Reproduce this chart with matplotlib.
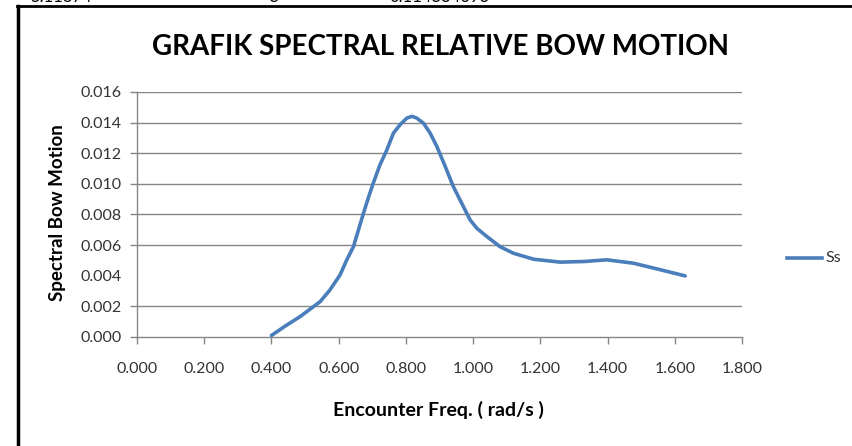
import matplotlib
matplotlib.use("Agg")
import matplotlib.pyplot as plt
from matplotlib.lines import Line2D

freq = [0.400, 0.440, 0.485, 0.545, 0.574, 0.604, 0.624, 0.644, 0.659, 0.674,
        0.688, 0.703, 0.723, 0.743, 0.763, 0.783, 0.803, 0.818, 0.832, 0.852,
        0.872, 0.892, 0.917, 0.941, 0.966, 0.991, 1.011, 1.041, 1.080, 1.120,
        1.180, 1.259, 1.330, 1.398, 1.477, 1.550, 1.631]
spectral = [0.0001, 0.0007, 0.00133, 0.00231, 0.00307, 0.00405, 0.00503, 0.0059, 0.0070, 0.0081,
            0.00907, 0.01005, 0.01125, 0.0122, 0.01332, 0.01387, 0.0143, 0.01441, 0.0143, 0.01397,
            0.01332, 0.01245, 0.01114, 0.00983, 0.00874, 0.00765, 0.0071, 0.00656, 0.0059, 0.00547,
            0.00508, 0.00489, 0.00493, 0.00504, 0.00482, 0.00443, 0.00399]
x_ticks = [0.0, 0.2, 0.4, 0.6, 0.8, 1.0, 1.2, 1.4, 1.6, 1.8]
y_ticks = [0.000, 0.002, 0.004, 0.006, 0.008, 0.010, 0.012, 0.014, 0.016]
y_grid = [0.002, 0.006, 0.008, 0.010, 0.012, 0.014, 0.016]
series_name = "Ss"

W, H = 852, 446
fig = plt.figure(figsize=(W / 100, H / 100), dpi=100)
fig.patch.set_facecolor("white")

ax = fig.add_axes([137 / W, 1 - 337 / H, (742 - 137) / W, (337 - 92) / H])
ax.set_xlim(0, 1.8)
ax.set_ylim(0, 0.016)

grid_c = "#868686"
for g in y_grid:
    ax.axhline(g, color=grid_c, lw=1.0, zorder=1)

line_c = "#4A7EBB"
ax.plot(freq, spectral, color=line_c, lw=2.6, solid_capstyle="round",
        solid_joinstyle="round", zorder=3)

for s in ["top", "right"]:
    ax.spines[s].set_visible(False)
for s in ["left", "bottom"]:
    ax.spines[s].set_color(grid_c)
    ax.spines[s].set_linewidth(1.0)

ax.set_xticks(x_ticks)
ax.set_xticklabels([f"{v:.3f}" for v in x_ticks])
ax.set_yticks(y_ticks)
ax.set_yticklabels([f"{v:.3f}" for v in y_ticks])
ax.tick_params(axis="both", direction="out", length=5, width=1, color=grid_c,
               labelsize=11.5, labelcolor="#333333")
ax.tick_params(axis="x", pad=13)
ax.tick_params(axis="y", pad=6)
for lab in ax.get_xticklabels() + ax.get_yticklabels():
    lab.set_family("Lato")
# the reference shows no tick mark at 0.004
for t, v in zip(ax.yaxis.get_major_ticks(), y_ticks):
    if v not in y_grid and v != 0.0:
        t.tick1line.set_visible(False)

fig.text(441 / W, 1 - 47 / H, "GRAFIK SPECTRAL RELATIVE BOW MOTION",
         ha="center", va="center", fontsize=20, fontweight="bold", family="Lato")
fig.text(58 / W, 1 - 213 / H, "Spectral Bow Motion", rotation=90,
         ha="center", va="center", fontsize=13.5, fontweight="bold", family="Lato")
fig.text(438 / W, 1 - 410 / H, "Encounter Freq. ( rad/s )",
         ha="center", va="center", fontsize=14, fontweight="bold", family="Lato")

# legend
fig.add_artist(Line2D([787 / W, 822 / W], [1 - 258 / H, 1 - 258 / H],
                      color=line_c, lw=2.6, transform=fig.transFigure))
fig.text(825 / W, 1 - 258 / H, series_name, ha="left", va="center",
         fontsize=11.5, family="Lato", color="#333333")

# border lines of the cropped frame
fig.add_artist(Line2D([17 / W, 1.0], [1 - 6 / H, 1 - 6 / H], color="black",
                      lw=2.0, transform=fig.transFigure))
fig.add_artist(Line2D([18 / W, 18 / W], [0, 1 - 6 / H], color="black",
                      lw=2.5, transform=fig.transFigure))
# partially visible header text cut at the top (as in the reference)
for xt, t in [(30, "5.11874"), (270, "S"), (390, "0.114834693")]:
    fig.text(xt / W, 1.0 + 3 / H, t, ha="left", va="center", fontsize=12,
             family="Lato", color="black")

fig.savefig("out.png", dpi=100, facecolor="white")
